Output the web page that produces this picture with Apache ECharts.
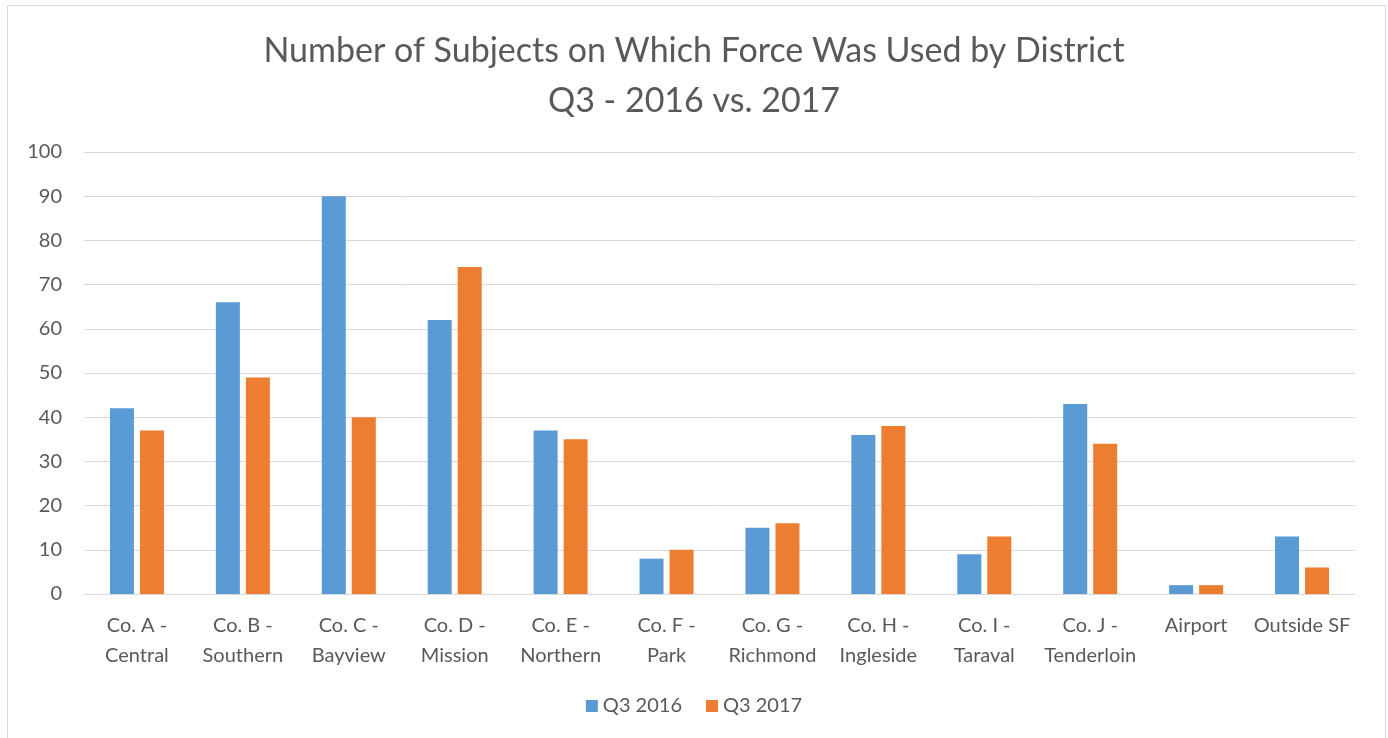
<!DOCTYPE html>
<html>
<head>
<meta charset="utf-8">
<script src="https://cdn.jsdelivr.net/npm/echarts@6/dist/echarts.min.js"></script>
<style>html,body{margin:0;padding:0;background:#fff}#c{width:1388px;height:738px}</style>
</head>
<body>
<div id="c"></div>
<script>
const categories = ["Co. A -\nCentral","Co. B -\nSouthern","Co. C -\nBayview","Co. D -\nMission","Co. E -\nNorthern","Co. F -\nPark","Co. G -\nRichmond","Co. H -\nIngleside","Co. I -\nTaraval","Co. J -\nTenderloin","Airport","Outside SF"];
const q3_2016 = [42,66,90,62,37,8,15,36,9,43,2,13];
const q3_2017 = [37,49,40,74,35,10,16,38,13,34,2,6];
const seriesNames = ["Q3 2016","Q3 2017"];
const titleLines = ["Number of Subjects on Which Force Was Used by District","Q3 - 2016 vs. 2017"];

const FONT = "Lato, 'Open Sans', sans-serif";
const chart = echarts.init(document.getElementById('c'));
chart.setOption({
  backgroundColor: '#fff',
  animation: false,
  graphic: [{type:'rect', shape:{x:7.5,y:5.5,width:1378,height:740}, style:{fill:'none', stroke:'#d9d9d9', lineWidth:1}}],
  title: {
    text: titleLines.join('\n'),
    left: 'center', top: 21,
    textStyle: {fontFamily: FONT, fontSize: 34, fontWeight: 'normal', color: '#595959', lineHeight: 50}
  },
  legend: {
    data: seriesNames, bottom: 17, left: 'center',
    itemWidth: 12, itemHeight: 12, itemGap: 24, icon: 'rect',
    textStyle: {fontFamily: FONT, fontSize: 20, color: '#595959'}
  },
  grid: {left: 84, right: 33, top: 152, bottom: 144},
  xAxis: {
    type: 'category', data: categories,
    axisLine: {lineStyle: {color: '#d9d9d9'}},
    axisTick: {show: false},
    axisLabel: {fontFamily: FONT, fontSize: 20, color: '#595959', lineHeight: 30, margin: 17, interval: 0}
  },
  yAxis: {
    type: 'value', min: 0, max: 100, interval: 10,
    axisLine: {show: false}, axisTick: {show: false},
    axisLabel: {fontFamily: FONT, fontSize: 20, color: '#595959', margin: 22},
    splitLine: {lineStyle: {color: '#d9d9d9'}}
  },
  series: [
    {name: seriesNames[0], type: 'bar', data: q3_2016, barWidth: 24, barGap: '25%', itemStyle: {color: '#5B9BD5'}},
    {name: seriesNames[1], type: 'bar', data: q3_2017, barWidth: 24, itemStyle: {color: '#ED7D31'}}
  ]
});
</script>
</body>
</html>
